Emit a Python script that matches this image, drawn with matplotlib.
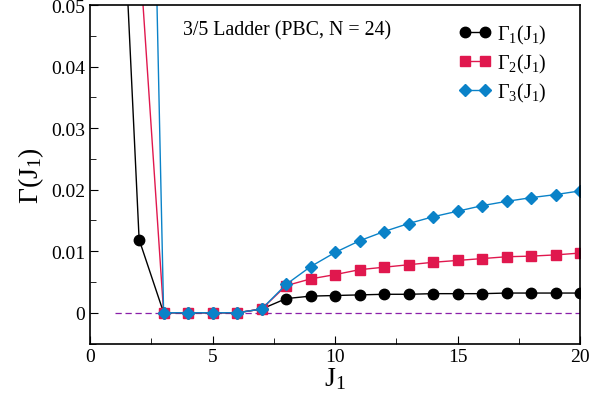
import numpy as np
import matplotlib.pyplot as plt
from matplotlib.ticker import MultipleLocator, FuncFormatter

plt.rcParams['font.family'] = 'Liberation Serif'
plt.rcParams['mathtext.fontset'] = 'custom'
plt.rcParams['mathtext.rm'] = 'Liberation Serif'
plt.rcParams['mathtext.it'] = 'Liberation Serif'
plt.rcParams['mathtext.default'] = 'regular'

# data
J1 = np.arange(2, 21)
gamma1 = [0.0119, 0, 0, 0, 0, 0.0006, 0.0023, 0.0027, 0.0028, 0.0029, 0.0030,
          0.0030, 0.0031, 0.0031, 0.0031, 0.0032, 0.0032, 0.0032, 0.0032]
J1_first = [1, 2]
gamma1_first = [0.096, 0.0119]

J23 = np.arange(3, 21)
gamma2 = [0, 0, 0, 0, 0.0006, 0.0044, 0.0055, 0.0062, 0.0070, 0.0074, 0.0078,
          0.0082, 0.0085, 0.0088, 0.0091, 0.0092, 0.0094, 0.0097]
gamma3 = [0, 0, 0, 0, 0.0006, 0.0046, 0.0075, 0.0098, 0.0117, 0.0132, 0.0145,
          0.0156, 0.0165, 0.0174, 0.0181, 0.0187, 0.0192, 0.0198]
gamma2_at2 = 0.0595
gamma3_at2 = 0.185

black = 'black'
red = '#e0184e'
blue = '#0a82c8'

fig = plt.figure(figsize=(5.89, 4.02), dpi=100)
ax = fig.add_axes([0.153, 0.143, 0.832, 0.842])

ax.plot([1, 20], [0, 0], ls='--', color='#8a1fa8', lw=0.9, dashes=(5, 3))

ax.plot(J1_first, gamma1_first, color=black, lw=1)
ax.plot([2, 3], [gamma2_at2, 0], color=red, lw=1)
ax.plot([2, 3], [gamma3_at2, 0], color=blue, lw=1)

ax.plot(J1, gamma1, color=black, lw=1, marker='o', ms=7.5, label=r'$\Gamma_1(J_1)$')
ax.plot(J23, gamma2, color=red, lw=1, marker='s', ms=6.5, label=r'$\Gamma_2(J_1)$')
ax.plot(J23, gamma3, color=blue, lw=1, marker='D', ms=6, label=r'$\Gamma_3(J_1)$')

ax.set_xlim(0, 20)
ax.set_ylim(-0.005, 0.05)
ax.xaxis.set_major_locator(MultipleLocator(5))
ax.xaxis.set_minor_locator(MultipleLocator(2.5))
ax.yaxis.set_major_locator(MultipleLocator(0.01))
ax.yaxis.set_minor_locator(MultipleLocator(0.005))
ax.yaxis.set_major_formatter(FuncFormatter(lambda v, p: '0' if abs(v) < 1e-9 else '%.2f' % v))
ax.tick_params(which='both', direction='in', top=False, right=False, labelsize=14)
ax.tick_params(which='major', length=6)
ax.tick_params(which='minor', length=4)
for s in ax.spines.values():
    s.set_linewidth(1.2)

ax.set_xlabel(r'$J_1$', fontsize=20, labelpad=0)
ax.set_ylabel(r'$\Gamma(J_1)$', fontsize=20, labelpad=4)

ax.text(0.19, 0.955, '3/5 Ladder (PBC, N = 24)', transform=ax.transAxes,
        fontsize=14.3, va='top', ha='left')

ax.legend(loc='upper right', bbox_to_anchor=(0.96, 0.99), frameon=False,
          fontsize=14.5, handlelength=1.6, numpoints=2, handletextpad=0.3,
          labelspacing=0.3, borderaxespad=0.3)

fig.savefig('out.png', dpi=100)
